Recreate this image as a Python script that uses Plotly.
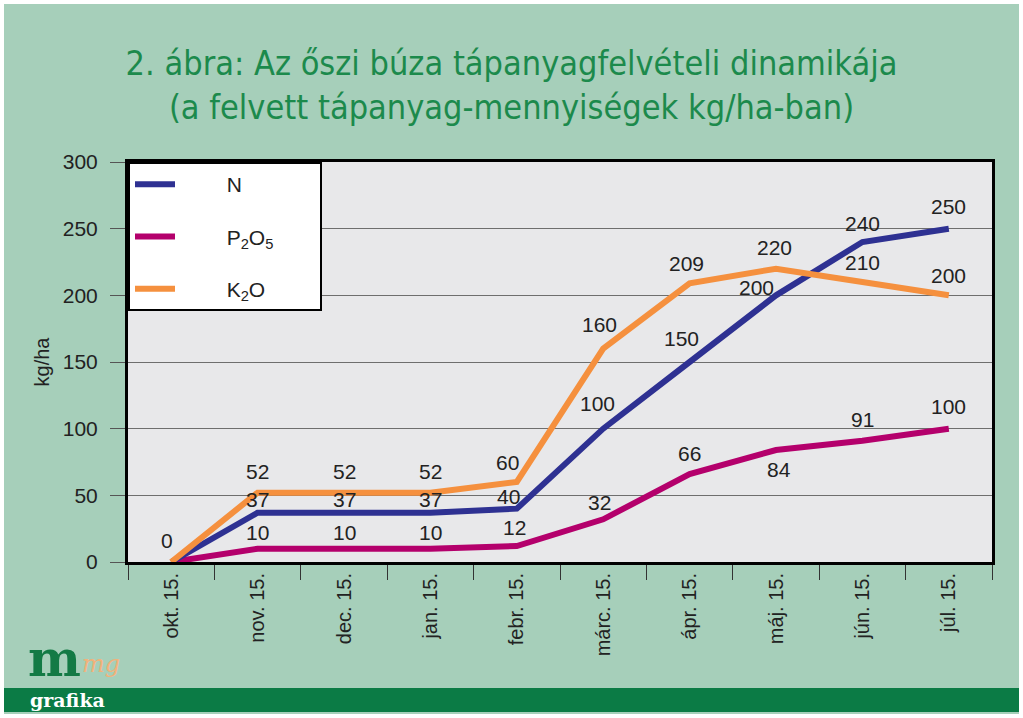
import plotly.graph_objects as go

months = ["okt. 15.", "nov. 15.", "dec. 15.", "jan. 15.", "febr. 15.",
          "márc. 15.", "ápr. 15.", "máj. 15.", "jún. 15.", "júl. 15."]
n_vals = [0, 37, 37, 37, 40, 100, 150, 200, 240, 250]
p_vals = [0, 10, 10, 10, 12, 32, 66, 84, 91, 100]
k_vals = [0, 52, 52, 52, 60, 160, 209, 220, 210, 200]

# which points carry a value label
n_show = [True] * 10
p_show = [False] + [True] * 9
k_show = [False] + [True] * 9

# label offsets in pixels (style only): (dx, dy up)
n_off = [(-4, 22), (0, 13), (0, 13), (0, 13), (-8, 12), (-6, 25), (-8, 24), (-20, 8), (0, 19), (0, 22)]
p_off = [(0, 0), (0, 16), (0, 16), (0, 16), (-2, 19), (-4, 17), (0, 21), (3, -19), (0, 21), (0, 22)]
k_off = [(0, 0), (0, 21), (0, 21), (0, 21), (-9, 20), (-4, 24), (-3, 20), (-2, 21), (0, 20), (0, 20)]

NB = "\u00a0"
series = [
    ("N", n_vals, n_show, n_off, "#2E3192"),
    ("P<sub>2</sub>O<sub>5</sub>", p_vals, p_show, p_off, "#B4006C"),
    ("K<sub>2</sub>O", k_vals, k_show, k_off, "#F5903E"),
]

fig = go.Figure()
order = [1, 0, 2]
for i in order:
    name, vals, show, off, col = series[i]
    fig.add_trace(go.Scatter(
        x=months, y=vals, name=NB * 8 + name + NB * 7, mode="lines",
        line=dict(color=col, width=6),
        legendgroup="g%d" % i, legendrank=i + 1,
        cliponaxis=False,
    ))

L, R, T, B = 128, 31, 162, 156
W, H = 1023, 718
pw, ph = W - L - R, H - T - B

def px(x):
    return (x - L) / pw

def py(y):
    return (H - B - y) / ph

annotations = []
for i in [1, 0, 2]:
    name, vals, show, off, col = series[i]
    for m, v, s, (dx, dy) in zip(months, vals, show, off):
        if not s:
            continue
        annotations.append(dict(
            x=m, y=v, xref="x", yref="y", text=str(v), showarrow=False,
            xanchor="center", yanchor="middle", xshift=dx, yshift=dy,
            font=dict(family="Liberation Sans, Arial, sans-serif", size=21, color="#222222"),
        ))

shapes = [
    dict(type="rect", xref="paper", yref="paper", x0=px(0), x1=px(W), y0=py(H), y1=py(0),
         line=dict(color="white", width=8), fillcolor="rgba(0,0,0,0)", layer="above"),
    dict(type="rect", xref="paper", yref="paper", x0=px(4), x1=px(W - 4), y0=py(712), y1=py(688),
         line=dict(width=0), fillcolor="#0B7B45", layer="above"),
]

annotations += [
    dict(text="<b>m</b>", xref="paper", yref="paper", x=px(26), y=py(690), xanchor="left", yanchor="bottom",
         showarrow=False, font=dict(family="DejaVu Serif, serif", size=50, color="#137A45")),
    dict(text="<i>mg</i>", xref="paper", yref="paper", x=px(80), y=py(664), xanchor="left", yanchor="middle",
         showarrow=False, font=dict(family="DejaVu Serif, serif", size=24, color="#F2B27A")),
    dict(text="<b>grafika</b>", xref="paper", yref="paper", x=px(28), y=py(700), xanchor="left", yanchor="middle",
         showarrow=False, font=dict(family="DejaVu Serif, serif", size=19, color="white")),
]

fig.update_layout(
    width=W, height=H,
    margin=dict(l=L, r=R, t=T, b=B),
    paper_bgcolor="#A6CFBA",
    plot_bgcolor="#E8E8EA",
    title=dict(
        text="2. ábra: Az őszi búza tápanyagfelvételi dinamikája<br>(a felvett tápanyag-mennyiségek kg/ha-ban)",
        x=0.5, xanchor="center", xref="container",
        y=1 - 75 / H, yanchor="middle",
        font=dict(family="DejaVu Sans Condensed, Liberation Sans Narrow, sans-serif", size=34, color="#1C8A4C"),
    ),
    showlegend=True,
    legend=dict(
        x=0, y=1, xanchor="left", yanchor="top",
        bgcolor="white", bordercolor="black", borderwidth=2,
        font=dict(family="Liberation Sans, Arial, sans-serif", size=21, color="#222222"),
        tracegroupgap=22, itemwidth=40,
        traceorder="grouped",
    ),
    xaxis=dict(
        type="category", range=[-0.5, len(months) - 0.5],
        tickson="boundaries", ticks="outside", ticklen=15, tickcolor="#333333",
        tickangle=-90, showgrid=False,
        showline=True, linecolor="black", linewidth=3, mirror=True,
        tickfont=dict(family="Liberation Sans, Arial, sans-serif", size=20, color="#222222"),
    ),
    yaxis=dict(
        range=[0, 300], dtick=50, ticks="outside", ticklen=15, tickcolor="#555555",
        showgrid=True, gridcolor="#6E6E6E", gridwidth=1,
        showline=True, linecolor="black", linewidth=3, mirror=True, zeroline=False,
        ticklabelstandoff=8,
        title=dict(text="kg/ha", font=dict(family="Liberation Sans, Arial, sans-serif", size=20, color="#222222"),
                   standoff=8),
        tickfont=dict(family="Liberation Sans, Arial, sans-serif", size=21, color="#222222"),
    ),
    shapes=shapes,
    annotations=annotations,
)

fig.write_html("out.html", config={"displayModeBar": False},
               post_script="document.body.style.margin='0';document.body.style.padding='0';")
